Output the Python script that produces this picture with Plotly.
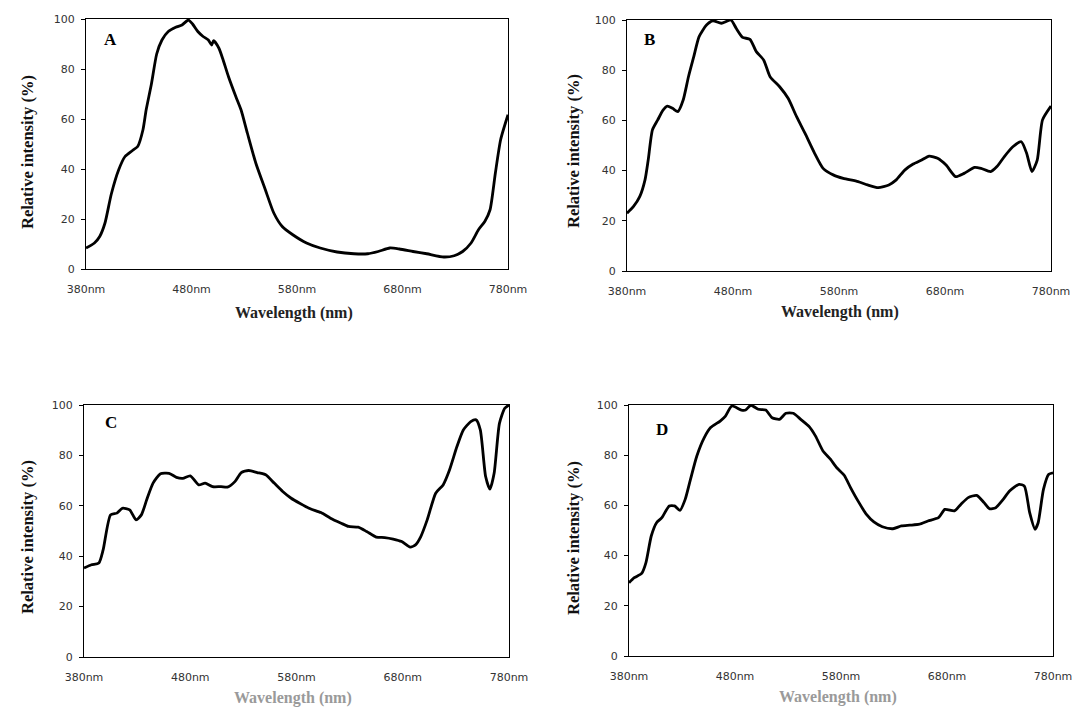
import plotly.graph_objects as go

# ---------------- data ----------------
wl_A = [380, 388, 393, 398, 404, 411, 417, 424, 429, 434, 437, 442, 447, 452, 458, 465, 471, 477, 481, 486,
        491, 496, 499, 501, 506, 510, 515, 522, 527, 533, 541, 550, 558, 566, 576, 589, 602, 618, 634, 647,
        657, 668, 677, 690, 703, 719, 729, 737, 745, 752, 758, 763, 768, 773, 780]
int_A = [8.4, 10.4, 13, 18.4, 30, 39.7, 45, 47.4, 49, 55.7, 63.6, 74, 86, 91.6, 95, 96.7, 97.6, 99.6, 98, 95,
         93, 91.6, 89.6, 91.3, 88.3, 83.6, 77, 69, 63.6, 54.3, 42.3, 31.7, 22.4, 17, 13.7, 10.4, 8.4, 6.8, 6.1, 6.1,
         7, 8.4, 8, 7, 6.1, 4.8, 5.3, 7, 10.4, 15.7, 19, 23.7, 38.3, 51.7, 61.7]

wl_B = [380, 386, 392, 397, 400, 404, 409, 414, 418, 423, 428, 433, 438, 443, 448, 455, 461, 469, 478, 483,
        489, 496, 502, 509, 515, 524, 532, 540, 548, 557, 565, 575, 584, 598, 607, 617, 627, 634, 642, 650,
        658, 665, 673, 681, 690, 698, 708, 714, 723, 729, 736, 744, 752, 757, 762, 767, 772, 780]
int_B = [23, 25.6, 29.6, 36.3, 44.2, 56.2, 60.2, 64.1, 65.7, 64.8, 63.5, 68.1, 77.4, 85.4, 93.4, 98, 99.7, 98.7, 100, 96.7,
         93.1, 92.3, 87.4, 84, 77.4, 73.4, 68.8, 61.5, 54.8, 46.9, 40.9, 38.2, 36.9, 35.6, 34.3, 33.2, 34.3, 36.3, 40.2, 42.6,
         44.2, 45.8, 44.9, 42.2, 37.6, 38.9, 41.3, 40.9, 39.6, 41.6, 45.6, 49.5, 51.5, 46.9, 39.6, 44.2, 60.2, 65.7]

wl_C = [380, 387, 394, 398, 405, 411, 416, 423, 429, 434, 439, 445, 452, 460, 467, 473, 480, 488, 494, 501,
        509, 515, 522, 528, 535, 543, 551, 559, 567, 575, 583, 593, 603, 612, 622, 629, 638, 646, 655, 663,
        671, 679, 687, 692, 697, 703, 711, 718, 724, 731, 737, 744, 749, 753, 758, 762, 766, 771, 776, 780]
int_C = [35.3, 36.6, 37.3, 42.5, 56.4, 57.1, 59, 58.4, 54.4, 56.4, 62.4, 69, 72.7, 72.9, 71.3, 70.9, 71.9, 68.3, 69, 67.6,
         67.6, 67.4, 69.6, 73.2, 74, 73.2, 72.3, 69, 65.7, 63, 61, 58.8, 57.3, 55.1, 53.1, 51.8, 51.5, 49.8, 47.6, 47.4,
         46.8, 45.8, 43.6, 44.5, 47.8, 54.4, 65, 68.3, 74.2, 83.5, 90.1, 93.4, 94.1, 90.1, 71.6, 66.6, 72.9, 92.7, 98.7, 100]

wl_D = [380, 385, 392, 396, 401, 406, 411, 418, 423, 428, 433, 438, 444, 451, 457, 466, 471, 477, 486, 490,
        495, 502, 509, 515, 522, 528, 535, 542, 550, 556, 563, 570, 576, 583, 589, 596, 604, 611, 619, 629,
        637, 645, 654, 662, 672, 678, 687, 693, 700, 708, 715, 720, 726, 733, 739, 748, 753, 758, 763, 766,
        771, 776, 780]
int_D = [29.2, 31.2, 32.9, 37.2, 47.8, 53.1, 55.1, 59.8, 59.8, 58, 62.4, 70.4, 79.7, 87, 91, 93.6, 95.6, 99.6, 98, 98,
         99.9, 98.3, 98, 94.9, 94.3, 96.7, 96.7, 94.3, 91.4, 87.6, 81.7, 78.4, 75, 72, 67.1, 61.8, 56.4, 53.4, 51.5, 50.7,
         51.8, 52.1, 52.5, 53.8, 55.1, 58.4, 57.8, 60.4, 63.1, 64, 61.1, 58.7, 59.1, 62.4, 65.7, 68.4, 67.7, 57.1, 50.5, 53.1,
         66.4, 72.4, 73]

panel_labels = ["A", "B", "C", "D"]
x_tick_vals = [380, 480, 580, 680, 780]
x_tick_text = ["380nm", "480nm", "580nm", "680nm", "780nm"]
y_title = "Relative intensity (%)"
x_title = "Wavelength (nm)"

# ---------------- layout geometry (screen pixels) ----------------
OFF = 8                      # default page margin around the plot div
W, H = 1087 - 2 * OFF, 719 - 2 * OFF
# (left, right, top, bottom) of each plot area
boxes = [(86, 508, 19, 269), (627, 1051, 20, 271), (84, 509, 405, 657), (629, 1053, 405, 656)]
letter_pos = [(110, 39), (649, 40), (111, 422), (662, 429)]
ytitle_pos = [(28, 152), (573, 151), (27, 537), (573, 538)]
xtitle_pos = [(294, 313), (840, 312), (293, 698), (838, 697)]
xtitle_col = ["#222222", "#222222", "#9a9a9a", "#9a9a9a"]

series = [(wl_A, int_A), (wl_B, int_B), (wl_C, int_C), (wl_D, int_D)]

fig = go.Figure()
layout = dict(
    width=W, height=H,
    margin=dict(l=0, r=0, t=0, b=0, autoexpand=False),
    paper_bgcolor="white", plot_bgcolor="white",
    showlegend=False,
    font=dict(family="DejaVu Sans", size=11, color="#333333"),
)
annotations = []

def px(x):
    return (x - OFF) / W

def py(y):
    return 1 - (y - OFF) / H

for i, ((xs, ys), (l, r, t, b)) in enumerate(zip(series, boxes)):
    n = "" if i == 0 else str(i + 1)
    fig.add_trace(go.Scatter(
        x=xs, y=ys, mode="lines",
        line=dict(color="black", width=2.8, shape="spline", smoothing=0.6),
        xaxis="x" + n, yaxis="y" + n, hoverinfo="skip",
    ))
    layout["xaxis" + n] = dict(
        domain=[px(l), px(r)], anchor="y" + n, range=[380, 780],
        tickvals=x_tick_vals, ticktext=x_tick_text, ticks="",
        showline=True, linecolor="black", linewidth=1, mirror=True,
        showgrid=False, zeroline=False, ticklabelstandoff=10, automargin=False,
        tickfont=dict(family="DejaVu Sans", size=11, color="#333333"),
    )
    layout["yaxis" + n] = dict(
        domain=[py(b), py(t)], anchor="x" + n, range=[0, 100],
        tickvals=[0, 20, 40, 60, 80, 100], ticks="outside", ticklen=4, tickcolor="black",
        showline=True, linecolor="black", linewidth=1, mirror=True,
        showgrid=False, zeroline=False, ticklabelstandoff=4, automargin=False,
        tickfont=dict(family="DejaVu Sans", size=11, color="#333333"),
    )
    lx, ly = letter_pos[i]
    annotations.append(dict(x=px(lx), y=py(ly), xref="paper", yref="paper", text="<b>%s</b>" % panel_labels[i],
                            showarrow=False, xanchor="center", yanchor="middle",
                            font=dict(family="Liberation Serif", size=17, color="black")))
    tx, ty = ytitle_pos[i]
    annotations.append(dict(x=px(tx), y=py(ty), xref="paper", yref="paper", text="<b>%s</b>" % y_title,
                            showarrow=False, textangle=-90, xanchor="center", yanchor="middle",
                            font=dict(family="Liberation Serif", size=16.5, color="#111111")))
    wx, wy = xtitle_pos[i]
    annotations.append(dict(x=px(wx), y=py(wy), xref="paper", yref="paper", text="<b>%s</b>" % x_title,
                            showarrow=False, xanchor="center", yanchor="middle",
                            font=dict(family="Liberation Serif", size=16, color=xtitle_col[i])))

layout["annotations"] = annotations
fig.update_layout(**layout)
fig.write_html("out.html")
